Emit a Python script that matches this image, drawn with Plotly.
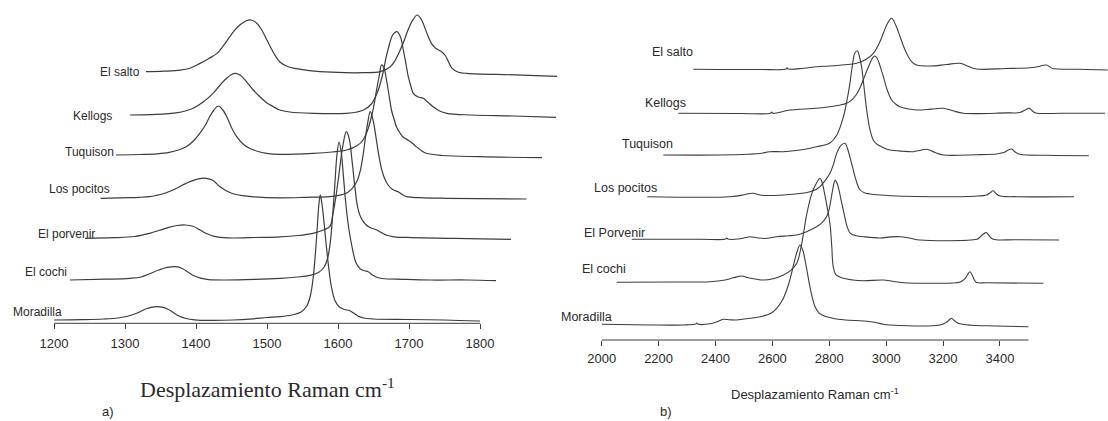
import plotly.graph_objects as go

# ---------------- DATA ----------------
# Panel a) 1200-1800 cm-1 region: (wavenumber, intensity above own baseline)
a_names = ["Moradilla", "El cochi", "El porvenir", "Los pocitos", "Tuquison", "Kellogs", "El salto"]

a_moradilla_x = [1200, 1240, 1270, 1290, 1305, 1318, 1330, 1338, 1345, 1352, 1360, 1368, 1376, 1386, 1398, 1420, 1452, 1480, 1500, 1518, 1535, 1548, 1556, 1561, 1565, 1568, 1571, 1573, 1575, 1577, 1580, 1583, 1587, 1591, 1596, 1602, 1609, 1616, 1622, 1628, 1636, 1650, 1700, 1750, 1800]
a_moradilla_y = [0, 0.4, 1, 2, 4, 7.3, 11.2, 12.9, 13.3, 12.9, 11, 7.5, 4, 1.5, 0.2, -0.4, 0, 1.2, 2.5, 3.3, 5, 8, 14, 24, 42, 65, 95, 115, 125, 118, 100, 78, 52, 32, 19, 13, 10.5, 9.5, 7, 4, 2, 1, 0.5, 0, -1]

a_cochi_x = [1200, 1250, 1284, 1300, 1312, 1325, 1337, 1349, 1358, 1366, 1374, 1384, 1395, 1420, 1460, 1496, 1520, 1538, 1550, 1558, 1563, 1567, 1570, 1573, 1576, 1579, 1582, 1585, 1588, 1592, 1597, 1603, 1609, 1615, 1620, 1626, 1632, 1640, 1670, 1707, 1760, 1800]
a_cochi_y = [0, 0.8, 1.7, 3, 6.2, 10, 12.6, 13.3, 11.5, 8, 4.5, 1.8, 0.4, 0, 0.6, 1.7, 3, 4.6, 7.5, 13, 22, 40, 65, 95, 125, 138, 128, 105, 80, 55, 34, 17, 11, 9.2, 8.3, 5, 2.8, 1.5, 0.7, 0, 0, -0.7]

a_porvenir_x = [1200, 1240, 1270, 1291, 1305, 1318, 1330, 1341, 1352, 1362, 1372, 1382, 1395, 1410, 1440, 1475, 1500, 1521, 1535, 1545, 1549, 1553, 1558, 1563, 1568, 1572, 1576, 1580, 1584, 1589, 1595, 1602, 1611, 1618, 1625, 1635, 1660, 1720, 1800]
a_porvenir_y = [0, 0.6, 1.8, 5, 8, 11, 12.8, 13.3, 12, 8.3, 4.5, 2, 0.6, 0.3, 0.8, 1.5, 2.8, 5, 8, 12, 24, 40, 66, 92, 106.6, 100, 78, 52, 31, 20, 14, 10.5, 8.3, 5.5, 3, 1.5, 0.7, 0, -1]

a_pocitos_x = [1200, 1240, 1255, 1269, 1278, 1288, 1302, 1315, 1326, 1338, 1349, 1358, 1368, 1377, 1387, 1400, 1415, 1452, 1490, 1523, 1537, 1546, 1554, 1561, 1566, 1570, 1573, 1576, 1580, 1584, 1588, 1592, 1596, 1600, 1605, 1612, 1619, 1625, 1631, 1650, 1687, 1800]
a_pocitos_y = [0, 0.6, 1.0, 1.7, 2.8, 4.5, 8.3, 13, 16.7, 19.5, 20, 18, 11.7, 7.5, 4.5, 2.6, 1.5, 0.5, 1, 1.7, 3.2, 5, 9.5, 16.7, 28, 44, 60, 74, 86.6, 78, 61, 43, 29, 20, 13.3, 8.5, 6.7, 3.8, 1.7, 0.6, 0, -0.7]

a_tuquison_x = [1200, 1235, 1258, 1275, 1288, 1299, 1309, 1318, 1326, 1332, 1338, 1344, 1350, 1356, 1363, 1370, 1379, 1388, 1400, 1412, 1431, 1478, 1505, 1525, 1540, 1548, 1555, 1562, 1567, 1571, 1574, 1577, 1581, 1585, 1588, 1592, 1595, 1600, 1604, 1611, 1617, 1623, 1630, 1637, 1660, 1712, 1800]
a_tuquison_y = [0, 0.5, 1.2, 2.6, 5, 8.3, 14, 21.7, 30, 38.3, 45, 49, 45.5, 38.3, 27, 18.3, 11, 6.7, 3.5, 1.7, 0.7, 1.7, 3, 5, 9.5, 15, 26, 45, 65, 80, 90, 88, 75, 58, 45, 35, 28.3, 22, 18.3, 15, 12, 8.3, 4.5, 1.7, -0.5, -1.7, -2.7]

a_kellogs_x = [1200, 1230, 1250, 1265, 1278, 1289, 1303, 1317, 1327, 1336, 1343, 1349, 1356, 1364, 1373, 1383, 1392, 1402, 1411, 1425, 1458, 1505, 1520, 1529, 1540, 1548, 1555, 1561, 1566, 1570, 1576, 1581, 1585, 1589, 1592, 1596, 1599, 1606, 1613, 1620, 1627, 1636, 1646, 1680, 1740, 1800]
a_kellogs_y = [0, 0.4, 1.1, 2.2, 4, 6.7, 13, 21.7, 30, 36.7, 40.5, 41.7, 39.5, 33.3, 25.5, 18.3, 12.5, 8.3, 5, 3, 1.7, 1.7, 3, 5, 11, 21.7, 38, 58.3, 72, 80, 83.3, 78, 65, 50, 38.3, 28, 21.7, 18, 16.7, 12.5, 8.3, 4, 1.7, 0, -1, -2.3]

a_salto_x = [1200, 1225, 1248, 1262, 1276, 1288, 1300, 1309, 1318, 1325, 1332, 1340, 1348, 1356, 1363, 1369, 1375, 1382, 1389, 1400, 1412, 1430, 1445, 1480, 1506, 1530, 1544, 1551, 1558, 1564, 1569, 1576, 1582, 1588, 1593, 1597, 1602, 1607, 1612, 1617, 1621, 1626, 1631, 1640, 1652, 1720, 1779]
a_salto_y = [0, 0.5, 1.5, 3.5, 8.3, 13, 18.3, 26, 35, 41.5, 46.7, 50.5, 51.7, 48.5, 41.7, 33.5, 25, 16, 9.5, 5, 3, 1, 0, -1, -1, 0, 5, 11.5, 21.7, 32, 41.7, 52, 56.7, 52, 43.3, 36, 28.3, 24, 21.7, 19.5, 16.7, 10, 3.3, -0.5, -1.7, -3.2, -4.7]

# waterfall offsets of panel a (cm-1, a.u.)
a_shift_x = [0, 22.5, 43.7, 65.5, 87.3, 107.0, 129.6]
a_shift_y = [0, 40, 81.7, 121.7, 165, 205, 248.3]

# Panel b) 2000-3500 cm-1 region
b_names = ["Moradilla", "El cochi", "El Porvenir", "Los pocitos", "Tuquison", "Kellogs", "El salto"]

b_moradilla_x = [2000, 2170, 2287, 2330, 2334, 2338, 2381, 2405, 2427, 2450, 2474, 2521, 2568, 2595, 2615, 2635, 2650, 2662, 2673, 2686, 2697, 2707, 2715, 2724, 2732, 2741, 2750, 2765, 2791, 2850, 2920, 2960, 2990, 3013, 3189, 3212, 3222, 3230, 3240, 3253, 3300, 3350, 3500]
b_moradilla_y = [0, -0.7, -0.7, 0.2, 1.2, 0.2, 0.5, 2.5, 5, 4.5, 4.3, 6, 8.3, 11, 16, 24, 34, 45, 57.6, 72, 79.3, 74, 64, 50, 37.6, 26, 17.6, 11, 7.6, 4.5, 3.3, 2, 0, -0.7, -0.7, 2, 4.5, 6, 3.5, 1, -1, -1.5, -2.4]

b_cochi_x = [2000, 2200, 2328, 2381, 2410, 2439, 2460, 2476, 2515, 2550, 2586, 2612, 2633, 2650, 2668, 2685, 2700, 2715, 2722, 2730, 2740, 2750, 2756, 2761, 2770, 2797, 2830, 2867, 2937, 2970, 3007, 3195, 3210, 3225, 3235, 3242, 3250, 3258, 3265, 3300, 3500]
b_cochi_y = [0, 0.3, 0.6, 2.3, 4.5, 6.3, 4.8, 3.8, 2.3, 3.5, 7.3, 12, 19, 38, 68, 88, 98, 104, 100, 90, 75, 58, 36, 16, 8, 4, 2.3, 1.6, 2.3, 1, -0.4, -0.4, 0.5, 4, 8.5, 10.6, 7, 2, -0.2, -0.5, -1]

b_porvenir_x = [2000, 2240, 2330, 2334, 2338, 2381, 2400, 2416, 2440, 2469, 2510, 2550, 2580, 2610, 2627, 2650, 2670, 2685, 2694, 2700, 2708, 2715, 2722, 2729, 2737, 2744, 2756, 2768, 2790, 2814, 2873, 2910, 2943, 2980, 3013, 3213, 3222, 3235, 3248, 3258, 3271, 3350, 3502]
b_porvenir_y = [0, 0, 0.2, 1.3, 0.2, 0.5, 1.8, 2.6, 1.5, 0.8, 2.6, 3.5, 4.3, 7, 9.3, 12.6, 17, 22.6, 30, 39, 52, 59.3, 56, 49, 38, 29, 14, 6, 3.5, 2.6, 1.3, 2.4, 2.6, 1, -0.7, 0, 1.5, 5, 6.6, 3, 0, -0.4, -0.7]

b_pocitos_x = [2000, 2291, 2336, 2355, 2373, 2392, 2414, 2478, 2537, 2572, 2595, 2607, 2625, 2642, 2655, 2666, 2680, 2695, 2704, 2712, 2721, 2730, 2739, 2748, 2765, 2783, 2818, 2900, 2994, 3150, 3193, 3205, 3216, 3226, 3240, 3300, 3500]
b_pocitos_y = [0, 0, 1.7, 3, 3.4, 2, 1.2, 1.7, 3.2, 5, 7.5, 10, 16, 23.4, 33, 43.4, 51, 53.4, 48, 40, 30, 20, 12, 6.7, 3.8, 2.7, 1.7, 0.5, 0, 0.5, 1.7, 3.8, 6, 3, 0.7, 0, 0]

b_tuquison_x = [2000, 2199, 2300, 2340, 2375, 2422, 2481, 2539, 2586, 2610, 2633, 2646, 2656, 2665, 2673, 2682, 2690, 2697, 2706, 2715, 2726, 2738, 2750, 2762, 2780, 2797, 2840, 2879, 2905, 2926, 2955, 2984, 3100, 3172, 3190, 3201, 3213, 3225, 3237, 3254, 3350, 3496]
b_tuquison_y = [0, 0, 0.8, 1.5, 3.3, 3.3, 5, 8.3, 12, 20, 38, 55, 71.7, 90, 101.7, 104.3, 98, 88.3, 67, 45, 26, 15, 11, 9, 6.5, 5, 3.8, 3.3, 4.8, 5.7, 2.5, 0, 0.3, 1, 2, 3, 5, 6, 3, 0.7, -0.3, -0.7]

b_kellogs_x = [2000, 2217, 2324, 2328, 2332, 2393, 2440, 2486, 2533, 2565, 2592, 2610, 2625, 2638, 2650, 2662, 2674, 2683, 2691, 2698, 2705, 2713, 2721, 2735, 2750, 2765, 2779, 2805, 2838, 2890, 2931, 2965, 3002, 3150, 3201, 3218, 3234, 3246, 3257, 3350, 3500]
b_kellogs_y = [0, -0.2, 0, 1.2, 0, 3.3, 4.3, 5, 6.6, 8, 10, 13.5, 18.3, 25, 33.3, 42, 50, 55.5, 57.3, 55.5, 51, 44, 36.6, 23, 13.3, 9, 6.6, 4.5, 3.3, 4.2, 5, 2.5, 0, 0.4, 0.8, 3, 5, 2, 0.3, 0, 0]

b_salto_x = [2000, 2234, 2326, 2330, 2334, 2387, 2434, 2480, 2530, 2574, 2605, 2633, 2652, 2668, 2683, 2697, 2712, 2727, 2742, 2756, 2770, 2785, 2832, 2890, 2937, 2966, 2996, 3100, 3183, 3215, 3230, 3242, 3253, 3264, 3350, 3457]
b_salto_y = [0, -0.2, 0.2, 1.5, 0.3, 1, 2.6, 3.3, 4.5, 6, 9.5, 16, 25, 36, 46, 51, 44, 32.6, 21, 12.6, 7, 4.3, 3.3, 4.8, 6, 3, 0.3, 0.8, 1.6, 2.8, 4, 4.3, 2.5, 0.8, 0, -0.7]

b_shift_x = [0, 52.7, 105.5, 160.3, 216.5, 269.2, 321.9]
b_shift_y = [0, 42, 85, 127.6, 169.3, 211, 255]

a_ticks = [1200, 1300, 1400, 1500, 1600, 1700, 1800]
b_ticks = [2000, 2200, 2400, 2600, 2800, 3000, 3200, 3400]
a_axis_span = [1200, 1800]
b_axis_span = [2000, 3500]

a_series = [(a_moradilla_x, a_moradilla_y), (a_cochi_x, a_cochi_y), (a_porvenir_x, a_porvenir_y),
            (a_pocitos_x, a_pocitos_y), (a_tuquison_x, a_tuquison_y), (a_kellogs_x, a_kellogs_y),
            (a_salto_x, a_salto_y)]
b_series = [(b_moradilla_x, b_moradilla_y), (b_cochi_x, b_cochi_y), (b_porvenir_x, b_porvenir_y),
            (b_pocitos_x, b_pocitos_y), (b_tuquison_x, b_tuquison_y), (b_kellogs_x, b_kellogs_y),
            (b_salto_x, b_salto_y)]

# ---------------- LAYOUT GEOMETRY (pixels) ----------------
W, H = 1108, 421
LINE = "#3c3c3c"
TXT = "#2a2a2a"
SANS = "Liberation Sans, Arial, sans-serif"
SERIF = "Liberation Serif, Times New Roman, serif"

# panel a: 1200 at px 54, 1800 at px 480; plot region px 0..560; axis line at px y 323.3
a_px0, a_px1 = 54.0, 480.0
a_dom = (0.0, 560.0)
a_ppu = (a_px1 - a_px0) / (a_axis_span[1] - a_axis_span[0])
a_range = [a_axis_span[0] - (a_px0 - a_dom[0]) / a_ppu, a_axis_span[0] + (a_dom[1] - a_px0) / a_ppu]
a_axis_y = 323.3
a_base = 320.0  # baseline pixel of first spectrum

# panel b: 2000 at px 601.7, 3500 at px 1028.4; plot region px 554..1108; axis line at px y 340
b_px0, b_px1 = 601.7, 1028.4
b_dom = (554.0, 1108.0)
b_ppu = (b_px1 - b_px0) / (b_axis_span[1] - b_axis_span[0])
b_range = [b_axis_span[0] - (b_px0 - b_dom[0]) / b_ppu, b_axis_span[0] + (b_dom[1] - b_px0) / b_ppu]
b_axis_y = 340.0
b_base = 324.3

fig = go.Figure()

for i, (xs, ys) in enumerate(a_series):
    fig.add_trace(go.Scatter(
        x=[v + a_shift_x[i] for v in xs], y=[v + a_shift_y[i] for v in ys],
        mode="lines", line=dict(color=LINE, width=1.2, shape="spline", smoothing=1.0),
        name=a_names[i], xaxis="x", yaxis="y", showlegend=False, hoverinfo="skip"))

for i, (xs, ys) in enumerate(b_series):
    fig.add_trace(go.Scatter(
        x=[v + b_shift_x[i] for v in xs], y=[v + b_shift_y[i] for v in ys],
        mode="lines", line=dict(color=LINE, width=1.1, shape="spline", smoothing=1.0),
        name=b_names[i], xaxis="x2", yaxis="y2", showlegend=False, hoverinfo="skip"))

axis_common = dict(showgrid=False, zeroline=False, showline=False, ticks="outside",
                   ticklen=5, tickwidth=1, tickcolor=LINE, tickmode="array",
                   tickfont=dict(family=SANS, size=13, color=TXT), fixedrange=True)

fig.update_layout(
    width=W, height=H, autosize=False,
    margin=dict(l=0, r=0, t=0, b=0, pad=0),
    paper_bgcolor="white", plot_bgcolor="rgba(0,0,0,0)",
    xaxis=dict(domain=[a_dom[0] / W, a_dom[1] / W], range=a_range, anchor="free",
               position=1 - a_axis_y / H, tickvals=a_ticks, ticklabelstandoff=3, **axis_common),
    yaxis=dict(domain=[0, 1], range=[a_base - H, a_base], visible=False, fixedrange=True),
    xaxis2=dict(domain=[b_dom[0] / W, b_dom[1] / W], range=b_range, anchor="free",
                position=1 - b_axis_y / H, tickvals=b_ticks, ticklabelstandoff=1, **axis_common),
    yaxis2=dict(domain=[0, 1], range=[b_base - H, b_base], visible=False, fixedrange=True,
                anchor="x2"),
)

# axis lines spanning only the labelled interval
fig.add_shape(type="line", xref="x", yref="paper", x0=a_axis_span[0], x1=a_axis_span[1],
              y0=1 - a_axis_y / H, y1=1 - a_axis_y / H, line=dict(color=LINE, width=1))
fig.add_shape(type="line", xref="x2", yref="paper", x0=b_axis_span[0], x1=b_axis_span[1],
              y0=1 - b_axis_y / H, y1=1 - b_axis_y / H, line=dict(color=LINE, width=1))

# series labels: right edge px, centre y px
a_label_pos = [(63.5, 312.3), (68.5, 271.7), (96.5, 234.0), (111.7, 189.0), (115.5, 151.7), (114.0, 116.0), (141.7, 71.7)]
b_label_pos = [(614.0, 316.7), (628.3, 269.3), (646.7, 233.3), (659.3, 187.7), (675.0, 144.0), (688.3, 103.3), (695.0, 52.3)]

for name, (xr, yc) in zip(a_names, a_label_pos):
    fig.add_annotation(text=name, x=xr / W, y=1 - yc / H, xref="paper", yref="paper",
                       xanchor="right", yanchor="middle", showarrow=False,
                       font=dict(family=SANS, size=12, color=TXT))
for name, (xr, yc) in zip(b_names, b_label_pos):
    fig.add_annotation(text=name, x=xr / W, y=1 - yc / H, xref="paper", yref="paper",
                       xanchor="right", yanchor="middle", showarrow=False,
                       font=dict(family=SANS, size=12.5, color=TXT))

# axis titles and panel letters
fig.add_annotation(text="Desplazamiento Raman cm<sup>-1</sup>", x=267 / W, y=1 - 388 / H,
                   xref="paper", yref="paper", xanchor="center", yanchor="middle",
                   showarrow=False, font=dict(family=SERIF, size=22, color=TXT))
fig.add_annotation(text="Desplazamiento Raman cm<sup>-1</sup>", x=815 / W, y=1 - 394 / H,
                   xref="paper", yref="paper", xanchor="center", yanchor="middle",
                   showarrow=False, font=dict(family=SANS, size=13, color=TXT))
fig.add_annotation(text="a)", x=107.5 / W, y=1 - 411 / H, xref="paper", yref="paper",
                   xanchor="center", yanchor="middle", showarrow=False,
                   font=dict(family=SANS, size=13, color=TXT))
fig.add_annotation(text="b)", x=666 / W, y=1 - 411 / H, xref="paper", yref="paper",
                   xanchor="center", yanchor="middle", showarrow=False,
                   font=dict(family=SANS, size=13, color=TXT))

fig.write_html("out.html", config={"displayModeBar": False})
